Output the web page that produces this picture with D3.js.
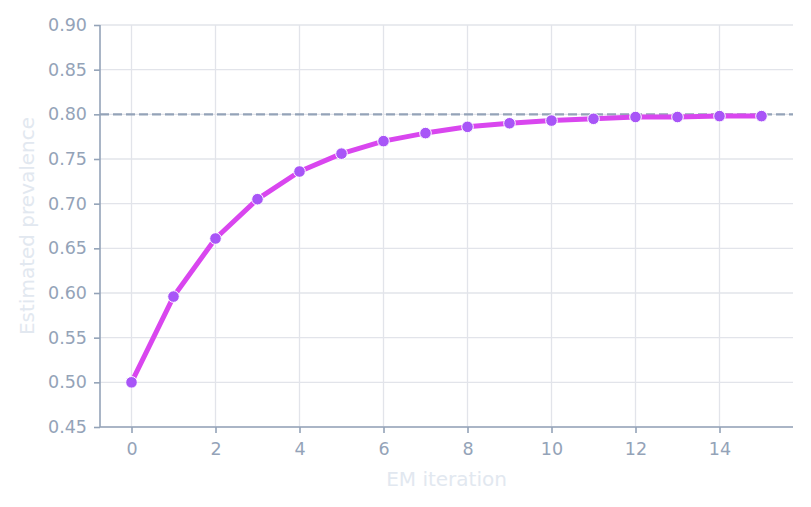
<!DOCTYPE html>
<html>
<head>
<meta charset="utf-8">
<script src="https://cdn.jsdelivr.net/npm/d3@7"></script>
<style>
  body { margin: 0; background: #fff; }
  text { font-family: "DejaVu Sans", sans-serif; }
</style>
</head>
<body>
<div id="chart"></div>
<script>
// valores
const iteracoes = [0, 1, 2, 3, 4, 5, 6, 7, 8, 9, 10, 11, 12, 13, 14, 15];
const prevalencia = [0.500, 0.596, 0.661, 0.705, 0.736, 0.756, 0.770, 0.779, 0.786, 0.790, 0.793, 0.795, 0.797, 0.797, 0.798, 0.798];
const valorVerdadeiro = 0.8;
const ticksX = [0, 2, 4, 6, 8, 10, 12, 14];
const ticksY = [0.45, 0.50, 0.55, 0.60, 0.65, 0.70, 0.75, 0.80, 0.85, 0.90];

const width = 811, height = 507;
const margem = { top: 25, right: 18, bottom: 80, left: 100 };

const svg = d3.select("#chart")
    .append("svg")
    .attr("width", width)
    .attr("height", height);

const x = d3.scaleLinear().domain([-0.75, 15.75]).range([margem.left, width - margem.right]);
const y = d3.scaleLinear().domain([0.45, 0.90]).range([height - margem.bottom, margem.top]);

const corEixo = "#94a3b8";

// grade
svg.append("g").selectAll("line")
    .data(ticksX).enter().append("line")
    .attr("x1", d => x(d)).attr("x2", d => x(d))
    .attr("y1", margem.top).attr("y2", height - margem.bottom)
    .attr("stroke", "#e2e4ea").attr("stroke-width", 1.3);
svg.append("g").selectAll("line")
    .data(ticksY).enter().append("line")
    .attr("x1", margem.left).attr("x2", width - margem.right)
    .attr("y1", d => y(d)).attr("y2", d => y(d))
    .attr("stroke", "#e2e4ea").attr("stroke-width", 1.3);

// linha de referência
svg.append("line")
    .attr("x1", margem.left).attr("x2", width - margem.right)
    .attr("y1", y(valorVerdadeiro)).attr("y2", y(valorVerdadeiro))
    .attr("stroke", corEixo).attr("stroke-width", 2.2)
    .attr("stroke-dasharray", "9,4");

// eixos
const eixoX = svg.append("g")
    .attr("transform", `translate(0,${height - margem.bottom})`)
    .call(d3.axisBottom(x).tickValues(ticksX).tickFormat(d3.format("d")).tickSize(6).tickPadding(10));
const eixoY = svg.append("g")
    .attr("transform", `translate(${margem.left},0)`)
    .call(d3.axisLeft(y).tickValues(ticksY).tickFormat(d3.format(".2f")).tickSize(6).tickPadding(7));

[eixoX, eixoY].forEach(g => {
    g.select(".domain").attr("stroke", corEixo).attr("stroke-width", 1.6);
    g.selectAll(".tick line").attr("stroke", corEixo).attr("stroke-width", 1.6);
    g.selectAll(".tick text").attr("fill", corEixo).style("font-size", "17.5px").style("font-family", "DejaVu Sans");
});
eixoX.select(".domain").attr("d", `M${margem.left},0H${width - margem.right}`);
eixoY.select(".domain").attr("d", `M0,${height - margem.bottom}V${margem.top}`);

// linha da série
const linha = d3.line().x((d, i) => x(iteracoes[i])).y(d => y(d));
svg.append("path")
    .datum(prevalencia)
    .attr("d", linha)
    .attr("fill", "none")
    .attr("stroke", "#d946ef")
    .attr("stroke-width", 5)
    .attr("stroke-linejoin", "round");

// marcadores
svg.append("g").selectAll("circle")
    .data(prevalencia).enter().append("circle")
    .attr("cx", (d, i) => x(iteracoes[i]))
    .attr("cy", d => y(d))
    .attr("r", 5.8)
    .attr("fill", "#a855f7")
    .attr("stroke", "#fff")
    .attr("stroke-width", 1);

// rótulos dos eixos
svg.append("text")
    .attr("x", (margem.left + width - margem.right) / 2)
    .attr("y", 486)
    .attr("text-anchor", "middle")
    .attr("fill", "#e2e8f0")
    .style("font-size", "20px")
    .text("EM iteration");
svg.append("text")
    .attr("transform", `translate(34,${(margem.top + height - margem.bottom) / 2}) rotate(-90)`)
    .attr("text-anchor", "middle")
    .attr("fill", "#e2e8f0")
    .style("font-size", "20px")
    .text("Estimated prevalence");
</script>
</body>
</html>
